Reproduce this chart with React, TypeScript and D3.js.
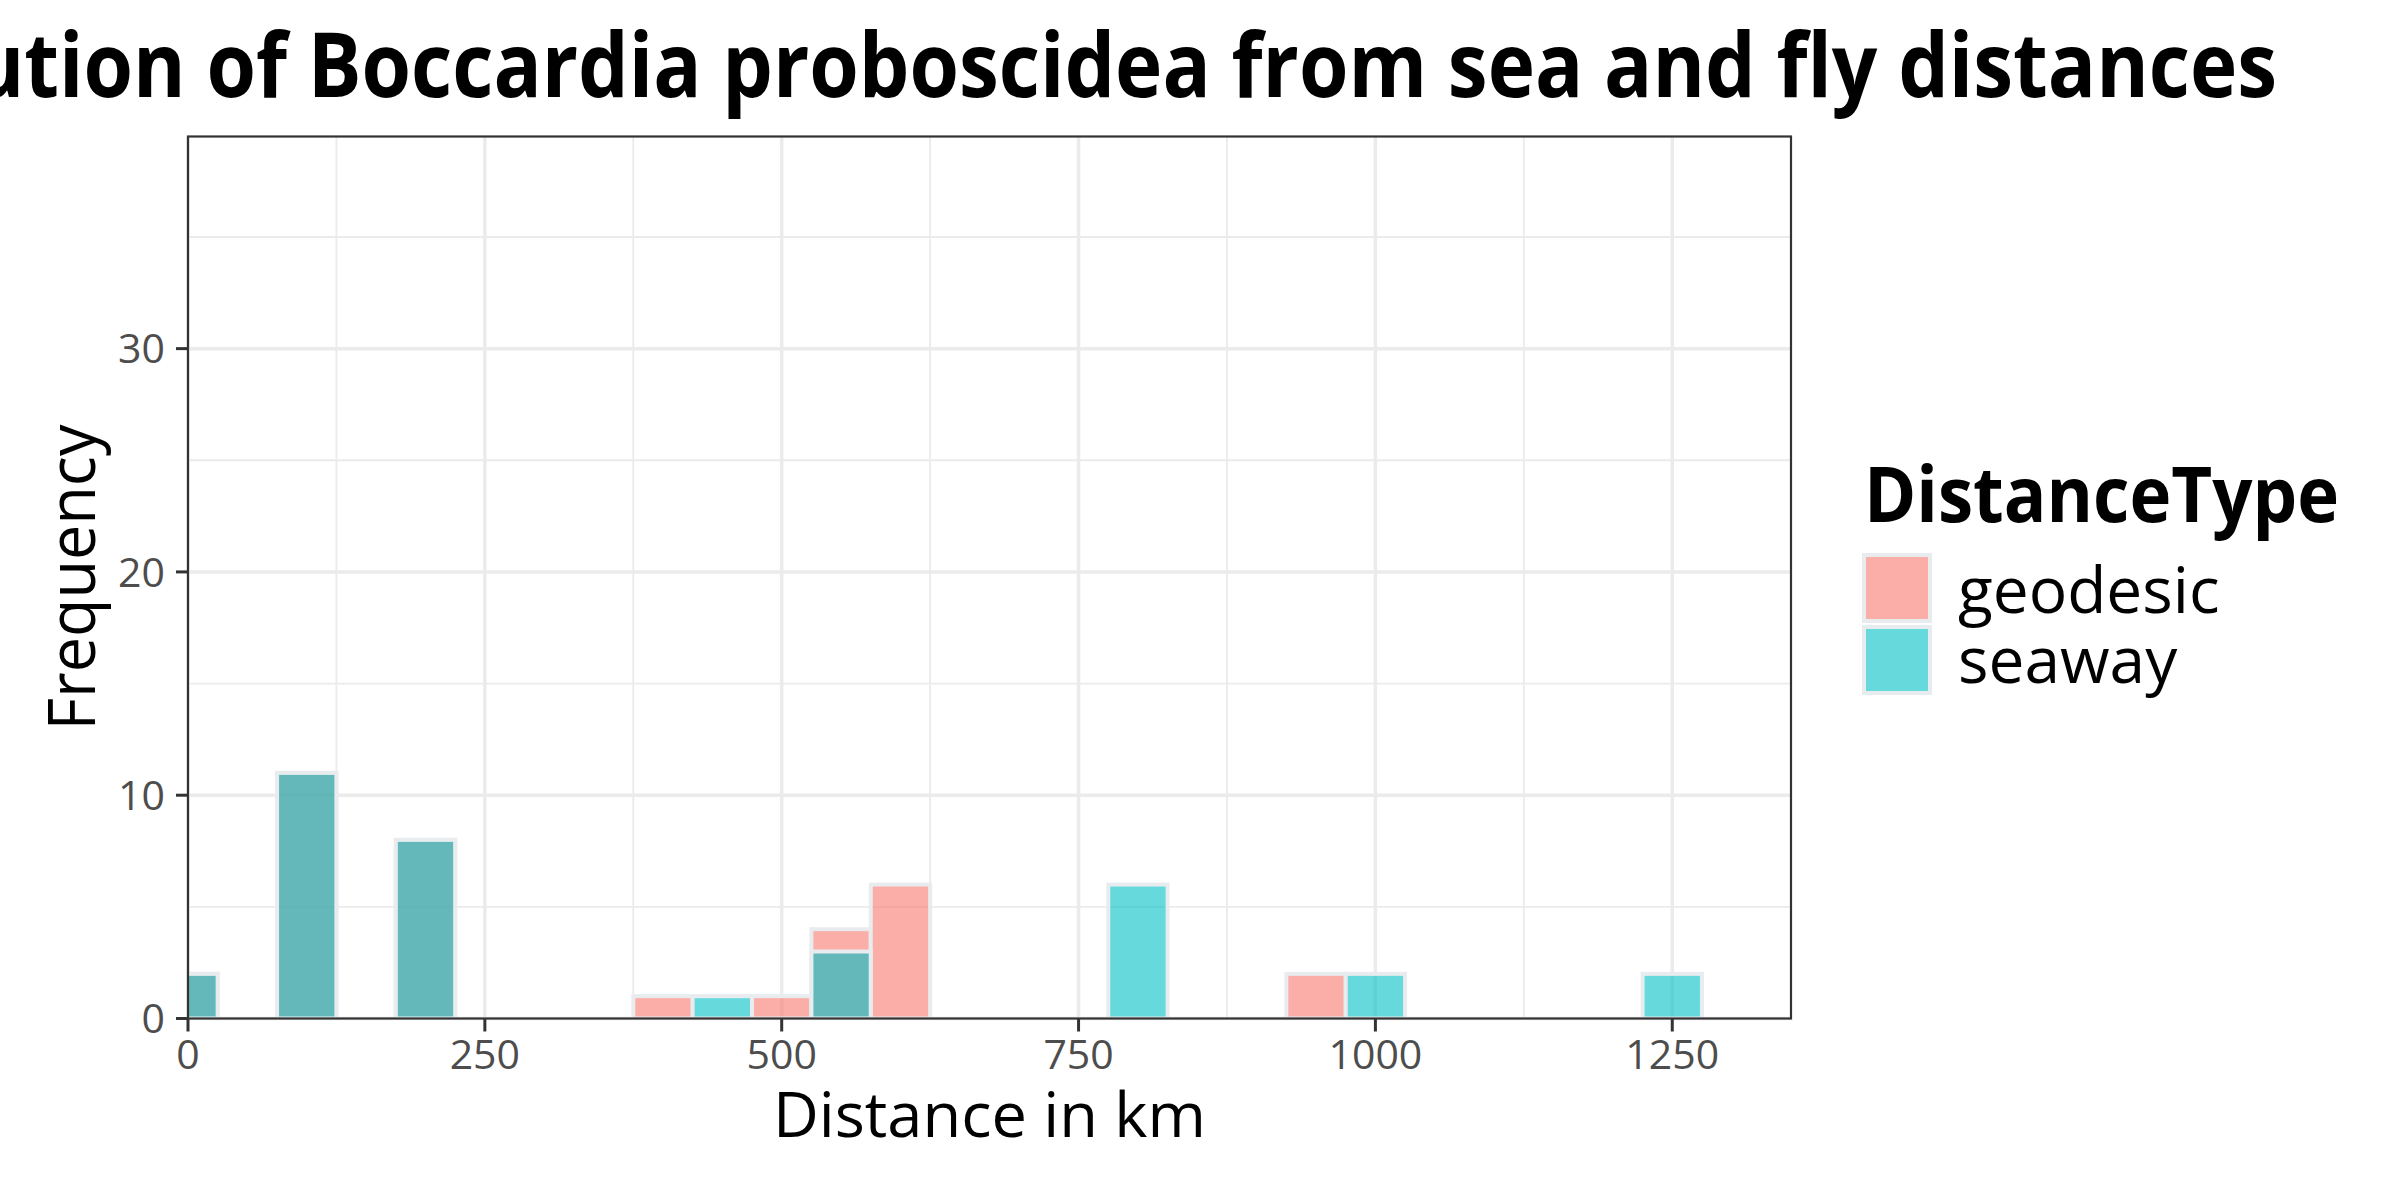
import React from 'react';
import * as d3 from 'd3';

// bin centres (km), bins are 50 km wide
const binCenters = [0, 50, 100, 150, 200, 250, 300, 350, 400, 450, 500, 550, 600, 650, 700, 750, 800, 850, 900, 950, 1000, 1050, 1100, 1150, 1200, 1250];
const geodesic = [2, 0, 11, 0, 8, 0, 0, 0, 1, 0, 1, 4, 6, 0, 0, 0, 0, 0, 0, 2, 0, 0, 0, 0, 0, 0];
const seaway = [2, 0, 11, 0, 8, 0, 0, 0, 0, 1, 0, 3, 0, 0, 0, 0, 6, 0, 0, 0, 2, 0, 0, 0, 0, 2];
const seriesNames = ['geodesic', 'seaway'];
const seriesColors = ['#F8766D', '#00BFC4'];
const xTicks = [0, 250, 500, 750, 1000, 1250];
const xMinor = [125, 375, 625, 875, 1125];
const yTicks = [0, 10, 20, 30];
const yMinor = [5, 15, 25, 35];

const binWidth = 50;
const W = 2400;
const H = 1200;
const panel = { left: 188, right: 1791, top: 136.5, bottom: 1018.5 };
const font = '"Open Sans", "Noto Sans", sans-serif';

const App = () => {
  const x = d3.scaleLinear().domain([0, 1350]).range([panel.left, panel.right]);
  const y = d3.scaleLinear().domain([0, 39.5]).range([panel.bottom, panel.top]);

  const series = [geodesic, seaway];

  return (
    <svg width={W} height={H} style={{ position: 'absolute', left: 0, top: 0 }} fontFamily={font}>
      <rect width={W} height={H} fill="#fff" />
      <defs>
        <clipPath id="panel-clip">
          <rect x={panel.left} y={panel.top} width={panel.right - panel.left} height={panel.bottom - panel.top} />
        </clipPath>
      </defs>

      {/* grid */}
      <g stroke="#EBEBEB">
        {yMinor.map((t) => (
          <line key={'ym' + t} x1={panel.left} x2={panel.right} y1={y(t)} y2={y(t)} strokeWidth={1.8} />
        ))}
        {xMinor.map((t) => (
          <line key={'xm' + t} x1={x(t)} x2={x(t)} y1={panel.top} y2={panel.bottom} strokeWidth={1.8} />
        ))}
        {yTicks.map((t) => (
          <line key={'y' + t} x1={panel.left} x2={panel.right} y1={y(t)} y2={y(t)} strokeWidth={3.5} />
        ))}
        {xTicks.map((t) => (
          <line key={'x' + t} x1={x(t)} x2={x(t)} y1={panel.top} y2={panel.bottom} strokeWidth={3.5} />
        ))}
      </g>

      {/* bars, geodesic first then seaway on top */}
      <g clipPath="url(#panel-clip)">
        {series.map((vals, si) => (
          <g key={seriesNames[si]}>
            {vals.map((v, i) =>
              v > 0 ? (
                <rect
                  key={i}
                  x={x(binCenters[i] - binWidth / 2)}
                  width={x(binWidth) - x(0)}
                  y={y(v)}
                  height={y(0) - y(v)}
                  fill={seriesColors[si]}
                  fillOpacity={0.6}
                  stroke="#E9ECEF"
                  strokeWidth={4}
                />
              ) : null
            )}
          </g>
        ))}
      </g>

      {/* border */}
      <rect
        x={panel.left}
        y={panel.top}
        width={panel.right - panel.left}
        height={panel.bottom - panel.top}
        fill="none"
        stroke="#333333"
        strokeWidth={2.2}
      />

      {/* axes ticks */}
      <g stroke="#333333" strokeWidth={3}>
        {xTicks.map((t) => (
          <line key={'xt' + t} x1={x(t)} x2={x(t)} y1={panel.bottom} y2={panel.bottom + 13} />
        ))}
        {yTicks.map((t) => (
          <line key={'yt' + t} x1={panel.left - 12} x2={panel.left} y1={y(t)} y2={y(t)} />
        ))}
      </g>
      <g fill="#4D4D4D" fontSize={41}>
        {xTicks.map((t) => (
          <text key={'xl' + t} x={x(t)} y={1069} textAnchor="middle">
            {t}
          </text>
        ))}
        {yTicks.map((t) => (
          <text key={'yl' + t} x={165} y={y(t)} dy="0.36em" textAnchor="end">
            {t}
          </text>
        ))}
      </g>

      {/* titles */}
      <text
        x={(panel.left + panel.right) / 2}
        y={97}
        textAnchor="middle"
        fontSize={90}
        fontWeight="bold"
        textLength={2575}
        lengthAdjust="spacingAndGlyphs"
      >
        Distribution of Boccardia proboscidea from sea and fly distances
      </text>
      <text
        x={(panel.left + panel.right) / 2}
        y={1137}
        textAnchor="middle"
        fontSize={62}
        textLength={433}
        lengthAdjust="spacingAndGlyphs"
      >
        Distance in km
      </text>
      <text
        transform={`translate(95, ${(panel.top + panel.bottom) / 2}) rotate(-90)`}
        textAnchor="middle"
        fontSize={66}
        textLength={306}
        lengthAdjust="spacingAndGlyphs"
      >
        Frequency
      </text>

      {/* legend */}
      <text x={1864} y={522} fontSize={77} fontWeight="bold" textLength={475} lengthAdjust="spacingAndGlyphs">
        DistanceType
      </text>
      {seriesNames.map((name, i) => (
        <g key={name}>
          <rect
            x={1864}
            y={555 + i * 72}
            width={66}
            height={66}
            fill={seriesColors[i]}
            fillOpacity={0.6}
            stroke="#E9ECEF"
            strokeWidth={4}
          />
          <text x={1958} y={613 + i * 70} fontSize={64}>
            {name}
          </text>
        </g>
      ))}
    </svg>
  );
};

export default App;
